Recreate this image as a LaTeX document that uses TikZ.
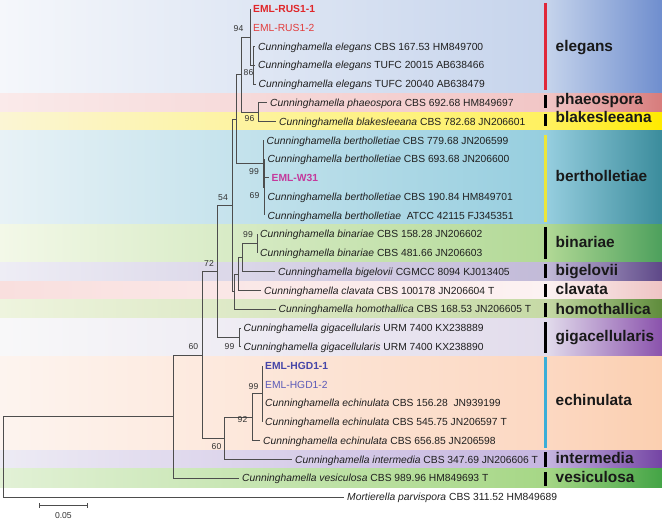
\documentclass[tikz,border=0pt]{standalone}
\usepackage{fontspec}
\setmainfont{Liberation Sans}
\definecolor{treeline}{HTML}{4D4D4D}
\definecolor{rusA}{HTML}{E0262A}
\definecolor{rusB}{HTML}{E23C3C}
\definecolor{wcol}{HTML}{C4399C}
\definecolor{hgdA}{HTML}{4646A8}
\definecolor{hgdB}{HTML}{5A5AB8}
\definecolor{barred}{HTML}{E0283A}
\definecolor{baryel}{HTML}{ECE63C}
\definecolor{barblue}{HTML}{3AAED8}
% band colours: a = left edge, b = at x=546, c = right edge
\definecolor{elA}{HTML}{F5F7FB}\definecolor{elB}{HTML}{C6D4EC}\definecolor{elC}{HTML}{6F8ECE}
\definecolor{phA}{HTML}{FAEAEA}\definecolor{phB}{HTML}{F2C6C6}\definecolor{phC}{HTML}{D77C7C}
\definecolor{blA}{HTML}{FBF5D4}\definecolor{blB}{HTML}{FFF160}\definecolor{blC}{HTML}{FFEA00}
\definecolor{beA}{HTML}{E8F2F6}\definecolor{beB}{HTML}{96CEDF}\definecolor{beC}{HTML}{3B8C9C}
\definecolor{biA}{HTML}{F3F8E8}\definecolor{biB}{HTML}{B2D996}\definecolor{biC}{HTML}{4DA05C}
\definecolor{bgA}{HTML}{EEEDF5}\definecolor{bgB}{HTML}{C2BAD8}\definecolor{bgC}{HTML}{5E4888}
\definecolor{clA}{HTML}{F9DFDE}\definecolor{clB}{HTML}{FCF2F2}\definecolor{clC}{HTML}{EEC4C4}
\definecolor{hoA}{HTML}{EEF4DE}\definecolor{hoB}{HTML}{C6DAA6}\definecolor{hoC}{HTML}{5F8C3C}
\definecolor{giA}{HTML}{F8F8F9}\definecolor{giB}{HTML}{E2DCEC}\definecolor{giC}{HTML}{8A52AC}
\definecolor{ecA}{HTML}{FDF4EF}\definecolor{ecB}{HTML}{FCD8C2}\definecolor{ecC}{HTML}{FBCFB0}
\definecolor{inA}{HTML}{EDEBF4}\definecolor{inB}{HTML}{C6B6E0}\definecolor{inC}{HTML}{7444A4}
\definecolor{veA}{HTML}{E2F1D6}\definecolor{veB}{HTML}{A6D786}\definecolor{veC}{HTML}{44A446}
\newcommand\bandfill[5]{%
  \shade[left color=#3, right color=#4] (0,#1) rectangle (546,#2);
  \shade[left color=#4, right color=#5] (546,#1) rectangle (662,#2);}
\newcommand\cun{Cunninghamella}
\begin{document}
\begin{tikzpicture}[x=1pt,y=-1pt,
  br/.style={draw=treeline, line width=0.9pt},
  leaf/.style={anchor=west, inner sep=0pt, xshift=3pt, text=black!88,
    font=\fontsize{10.3}{12}\selectfont, text height=7.4pt, text depth=0pt},
  bs/.style={inner sep=0pt, text=black!80, font=\fontsize{8.6}{10}\selectfont},
  grp/.style={anchor=west, inner sep=0pt, text=black!90,
    font=\bfseries\fontsize{15.4}{18}\selectfont, text height=8pt, text depth=0pt},
  cbar/.style={line width=3.2pt}]
\useasboundingbox (0,0) rectangle (662,521);
% ---------- coloured bands ----------
\bandfill{1}{93.5}{elA}{elB}{elC}
\bandfill{93.5}{112.3}{phA}{phB}{phC}
\bandfill{112.3}{131}{blA}{blB}{blC}
\bandfill{131}{224.9}{beA}{beB}{beC}
\bandfill{224.9}{262.4}{biA}{biB}{biC}
\bandfill{262.4}{281.2}{bgA}{bgB}{bgC}
\bandfill{281.2}{300}{clA}{clB}{clC}
\bandfill{300}{318.7}{hoA}{hoB}{hoC}
\bandfill{318.7}{356.3}{giA}{giB}{giC}
\bandfill{356.3}{450.1}{ecA}{ecB}{ecC}
\bandfill{450.1}{468.9}{inA}{inB}{inC}
\bandfill{468.9}{487.7}{veA}{veB}{veC}
% ---------- clade bars ----------
\draw[cbar, barred] (545.5,3) -- (545.5,90);
\draw[cbar, black] (545.5,95.5) -- (545.5,108);
\draw[cbar, black] (545.5,114) -- (545.5,126);
\draw[cbar, baryel] (545.5,135) -- (545.5,222);
\draw[cbar, black] (545.5,227) -- (545.5,259);
\draw[cbar, black] (545.5,264.5) -- (545.5,278.5);
\draw[cbar, black] (545.5,284.5) -- (545.5,297.5);
\draw[cbar, black] (545.5,303) -- (545.5,317);
\draw[cbar, black] (545.5,322.5) -- (545.5,353);
\draw[cbar, barblue] (545.5,357.5) -- (545.5,448);
\draw[cbar, black] (545.5,452.5) -- (545.5,467);
\draw[cbar, black] (545.5,472) -- (545.5,486.5);
% ---------- clade names ----------
\node[grp] (gEl) at (555.5,48) {elegans};
\node[grp] (gPh) at (555.5,101) {phaeospora};
\node[grp] (gBl) at (555.5,118.5) {blakesleeana};
\node[grp] (gBe) at (555.5,178) {bertholletiae};
\node[grp] (gBi) at (555.5,243.6) {binariae};
\node[grp] (gBg) at (555.5,271.8) {bigelovii};
\node[grp] (gCl) at (555.5,291) {clavata};
\node[grp] (gHo) at (555.5,310.5) {homothallica};
\node[grp] (gGi) at (555.5,338) {gigacellularis};
\node[grp] (gEc) at (555.5,402) {echinulata};
\node[grp] (gIn) at (555.5,459.3) {intermedia};
\node[grp] (gVe) at (555.5,478.3) {vesiculosa};
% ---------- internal nodes ----------
\coordinate (nE1) at (253.5,65.3);
\coordinate (nE)  at (250,37.2);
\coordinate (nPB) at (258,112.3);
\coordinate (nA)  at (241,74.7);
\coordinate (nB1) at (264.5,187.3);
\coordinate (nB)  at (263,163.9);
\coordinate (nC)  at (236.5,119.3);
\coordinate (nBin) at (257,243.6);
\coordinate (nBig) at (242,257.7);
\coordinate (nCla) at (238,274.1);
\coordinate (nHom) at (234.5,291.7);
\coordinate (nD)  at (232,205.5);
\coordinate (nG)  at (239,337.5);
\coordinate (nF)  at (217,271.5);
\coordinate (nH4) at (262,393.8);
\coordinate (nH3) at (252,417.2);
\coordinate (nH2) at (224.5,438.4);
\coordinate (nH)  at (202.5,355);
\coordinate (nI)  at (173,416.6);
\coordinate (nR)  at (3,456.8);
% ---------- leaves ----------
\coordinate (t1) at (250,9.0);
\coordinate (t2) at (250,27.8);
\coordinate (t3) at (255,46.5);
\coordinate (t4) at (255,65.3);
\coordinate (t5) at (255.5,84.1);
\coordinate (t6) at (267,102.9);
\coordinate (t7) at (276,121.6);
\coordinate (t8) at (263.5,140.4);
\coordinate (t9) at (264.5,159.2);
\coordinate (t10) at (268.5,177.9);
\coordinate (t11) at (264.5,196.7);
\coordinate (t12) at (264.5,215.5);
\coordinate (t13) at (257,234.2);
\coordinate (t14) at (257,253.0);
\coordinate (t15) at (275,271.8);
\coordinate (t16) at (261,290.6);
\coordinate (t17) at (275.5,309.3);
\coordinate (t18) at (240.5,328.1);
\coordinate (t19) at (240.5,346.9);
\coordinate (t20) at (262,365.6);
\coordinate (t21) at (262,384.4);
\coordinate (t22) at (262,403.2);
\coordinate (t23) at (262,421.9);
\coordinate (t24) at (260,440.7);
\coordinate (t25) at (292,459.5);
\coordinate (t26) at (239,478.3);
\coordinate (t27) at (344,497.0);
% ---------- branches ----------
\draw[br] (nE1) |- (t3); \draw[br] (nE1) |- (t4); \draw[br] (nE1) |- (t5);
\draw[br] (nE) |- (t1); \draw[br] (nE) |- (t2); \draw[br] (nE) |- (nE1);
\draw[br] (nPB) |- (t6); \draw[br] (nPB) |- (t7);
\draw[br] (nA) |- (nE); \draw[br] (nA) |- (nPB);
\draw[br] (nB1) |- (t9); \draw[br] (nB1) |- (t10); \draw[br] (nB1) |- (t11); \draw[br] (nB1) |- (t12);
\draw[br] (nB) |- (t8); \draw[br] (nB) |- (nB1);
\draw[br] (nC) |- (nA); \draw[br] (nC) |- (nB);
\draw[br] (nBin) |- (t13); \draw[br] (nBin) |- (t14);
\draw[br] (nBig) |- (nBin); \draw[br] (nBig) |- (t15);
\draw[br] (nCla) |- (nBig); \draw[br] (nCla) |- (t16);
\draw[br] (nHom) |- (nCla); \draw[br] (nHom) |- (t17);
\draw[br] (nD) |- (nC); \draw[br] (nD) |- (nHom);
\draw[br] (nG) |- (t18); \draw[br] (nG) |- (t19);
\draw[br] (nF) |- (nD); \draw[br] (nF) |- (nG);
\draw[br] (nH4) |- (t20); \draw[br] (nH4) |- (t21); \draw[br] (nH4) |- (t22); \draw[br] (nH4) |- (t23);
\draw[br] (nH3) |- (nH4); \draw[br] (nH3) |- (t24);
\draw[br] (nH2) |- (nH3); \draw[br] (nH2) |- (t25);
\draw[br] (nH) |- (nF); \draw[br] (nH) |- (nH2);
\draw[br] (nI) |- (nH); \draw[br] (nI) |- (t26);
\draw[br] (nR) |- (nI); \draw[br] (nR) |- (t27);
% ---------- leaf labels ----------
\node[leaf, text=rusA] (L1) at (t1) {\textbf{EML-RUS1-1}};
\node[leaf, text=rusB] (L2) at (t2) {EML-RUS1-2};
\node[leaf] (L3) at (t3) {\textit{\cun\ elegans} CBS 167.53 HM849700};
\node[leaf] (L4) at (t4) {\textit{\cun\ elegans} TUFC 20015 AB638466};
\node[leaf] (L5) at (t5) {\textit{\cun\ elegans} TUFC 20040 AB638479};
\node[leaf] (L6) at (t6) {\textit{\cun\ phaeospora} CBS 692.68 HM849697};
\node[leaf] (L7) at (t7) {\textit{\cun\ blakesleeana} CBS 782.68 JN206601};
\node[leaf] (L8) at (t8) {\textit{\cun\ bertholletiae} CBS 779.68 JN206599};
\node[leaf] (L9) at (t9) {\textit{\cun\ bertholletiae} CBS 693.68 JN206600};
\node[leaf, text=wcol] (L10) at (t10) {\textbf{EML-W31}};
\node[leaf] (L11) at (t11) {\textit{\cun\ bertholletiae} CBS 190.84 HM849701};
\node[leaf] (L12) at (t12) {\textit{\cun\ bertholletiae}\ \ ATCC 42115 FJ345351};
\node[leaf] (L13) at (t13) {\textit{\cun\ binariae} CBS 158.28 JN206602};
\node[leaf] (L14) at (t14) {\textit{\cun\ binariae} CBS 481.66 JN206603};
\node[leaf] (L15) at (t15) {\textit{\cun\ bigelovii} CGMCC 8094 KJ013405};
\node[leaf] (L16) at (t16) {\textit{\cun\ clavata} CBS 100178 JN206604 T};
\node[leaf] (L17) at (t17) {\textit{\cun\ homothallica} CBS 168.53 JN206605 T};
\node[leaf] (L18) at (t18) {\textit{\cun\ gigacellularis} URM 7400 KX238889};
\node[leaf] (L19) at (t19) {\textit{\cun\ gigacellularis} URM 7400 KX238890};
\node[leaf, text=hgdA] (L20) at (t20) {\textbf{EML-HGD1-1}};
\node[leaf, text=hgdB] (L21) at (t21) {EML-HGD1-2};
\node[leaf] (L22) at (t22) {\textit{\cun\ echinulata} CBS 156.28\ \ JN939199};
\node[leaf] (L23) at (t23) {\textit{\cun\ echinulata} CBS 545.75 JN206597 T};
\node[leaf] (L24) at (t24) {\textit{\cun\ echinulata} CBS 656.85 JN206598};
\node[leaf] (L25) at (t25) {\textit{\cun\ intermedia} CBS 347.69 JN206606 T};
\node[leaf] (L26) at (t26) {\textit{\cun\ vesiculosa} CBS 989.96 HM849693 T};
\node[leaf] (L27) at (t27) {\textit{Mortierella parvispora} CBS 311.52 HM849689};
% ---------- bootstrap values ----------
\node[bs] (b94) at (238.5,29) {94};
\node[bs] (b86) at (248.5,73) {86};
\node[bs] (b96) at (249.5,118.5) {96};
\node[bs] (b99a) at (254,171.5) {99};
\node[bs] (b69) at (254.5,195.5) {69};
\node[bs] (b54) at (223,198) {54};
\node[bs] (b99b) at (248,235) {99};
\node[bs] (b72) at (209,263) {72};
\node[bs] (b99c) at (229.5,347) {99};
\node[bs] (b60a) at (193.5,347) {60};
\node[bs] (b99d) at (253.5,386.5) {99};
\node[bs] (b92) at (242.5,420) {92};
\node[bs] (b60b) at (216.5,447) {60};
% ---------- scale bar ----------
\coordinate (s1) at (39.5,505.7);
\coordinate (s2) at (87.3,505.7);
\draw[br] (s1) -- (s2);
\draw[br] ([yshift=2.7pt]s1) -- ([yshift=-2.7pt]s1);
\draw[br] ([yshift=2.7pt]s2) -- ([yshift=-2.7pt]s2);
\node[bs] (sL) at (63.4,515.5) {0.05};
\end{tikzpicture}
\end{document}
